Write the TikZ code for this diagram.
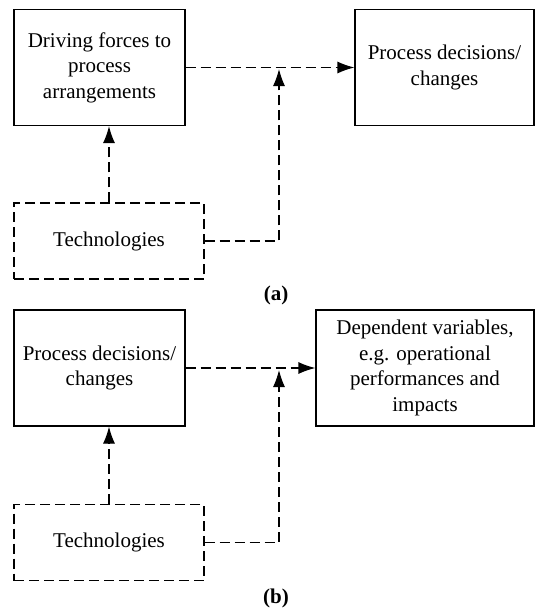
\documentclass[tikz,border=0pt]{standalone}
\usepackage{fontspec}
\setmainfont{Liberation Serif}
\usetikzlibrary{arrows.meta}
\begin{document}
\begin{tikzpicture}[x=1pt,y=-1pt,
  every node/.style={font=\fontsize{21}{25.6}\selectfont, align=center, inner sep=0pt},
  solidbox/.style={draw, line width=1.2pt, rectangle},
  dashbox/.style={draw, line width=1.2pt, rectangle, dash pattern=on 10pt off 5pt},
  conn/.style={line width=1.2pt, dash pattern=on 10pt off 5pt, -{Latex[length=17pt,width=12pt]}},
  caption/.style={font=\fontsize{21}{25}\selectfont\bfseries}]
\useasboundingbox (0,0) rectangle (535,608);

% ---- panel (a)
\node[solidbox, minimum width=171pt, minimum height=116pt] (drv) at (99.5,67.5)
  {Driving forces to\\process\\arrangements};
\node[solidbox, minimum width=179pt, minimum height=116pt] (pda) at (444.5,67.5)
  {Process decisions/\\changes};
\node[dashbox, minimum width=190pt, minimum height=76pt] (teca) at (109,241)
  {Technologies};
\coordinate (ja) at (279,69);
\draw[conn] (drv.east) -- (pda.west);
\draw[conn] (teca.north) -- (teca.north |- drv.south);
\draw[conn] (teca.east) -| (ja);
\node[caption] (capa) at (276,295) {(a)};

% ---- panel (b)
\node[solidbox, minimum width=171pt, minimum height=116pt] (pdb) at (99.5,368)
  {Process decisions/\\changes};
\node[solidbox, minimum width=218pt, minimum height=116pt] (dep) at (425,368)
  {Dependent variables,\\e.g. operational\\performances and\\impacts};
\node[dashbox, minimum width=190pt, minimum height=76pt] (tecb) at (109,542.5)
  {Technologies};
\coordinate (jb) at (279,370);
\draw[conn] (pdb.east) -- (dep.west);
\draw[conn] (tecb.north) -- (tecb.north |- pdb.south);
\draw[conn] (tecb.east) -| (jb);
\node[caption] (capb) at (276,598) {(b)};
\end{tikzpicture}
\end{document}
